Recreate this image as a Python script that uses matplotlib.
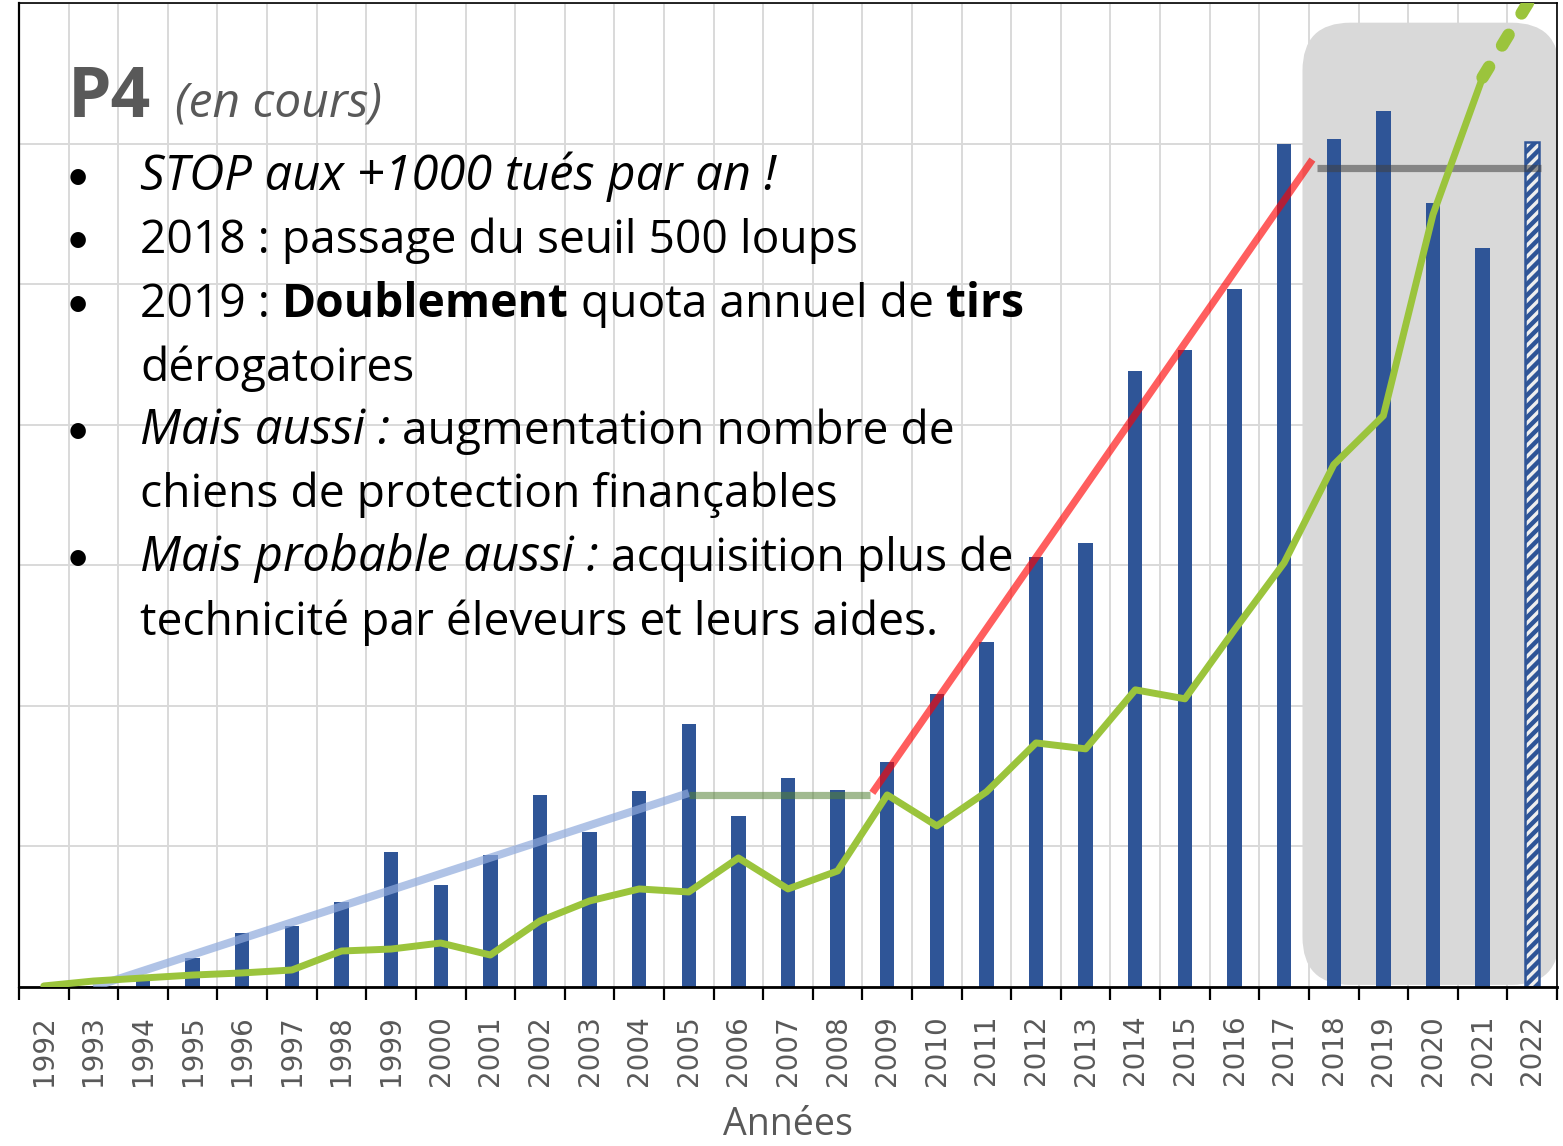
import matplotlib
matplotlib.use("Agg")
import matplotlib.pyplot as plt
import numpy as np
from matplotlib.patches import FancyBboxPatch
from matplotlib.transforms import IdentityTransform

# --- data ---
years = list(range(1992, 2023))
bars = [0, 20, 157, 413, 770, 868, 1210, 1922, 1452, 1879, 2733, 2206, 2790,
        3744, 2434, 2975, 2804, 3203, 4171, 4911, 6121, 6320, 8769, 9068,
        9936, 12000, 12071, 12470, 11160, 10520, 12028]
green = [15, 85, 128, 170, 200, 242, 512, 540, 626, 455, 940, 1224, 1395,
         1352, 1836, 1395, 1651, 2733, 2292, 2776, 3473, 3388, 4228, 4100,
         5082, 6036, 7431, 8128, 10990, 12940, 14100]
# trend segments (year position, value)
trend_blue_x = [1993, 2005]
trend_blue_y = [0, 2760]
trend_flat1_x = [2005, 2008.65]
trend_flat1_y = [2733, 2733]
trend_red_x = [2008.7, 2017.57]
trend_red_y = [2762, 11772]
trend_flat2_x = [2017.67, 2022.18]
trend_flat2_y = [11658, 11658]
box_x = [2017.37, 2022.55]
box_y = [30, 13720]

W, H = 1563, 1146
fig = plt.figure(figsize=(W / 100, H / 100), dpi=100)
ax = fig.add_axes([19 / W, 1 - 987 / H, (1557 - 19) / W, (987 - 3) / H])

x = np.array(years, dtype=float)
ax.set_xlim(1991.5, 2022.5)
ax.set_ylim(0, 14000)

# grid
ax.set_yticks(range(0, 14001, 2000))
ax.set_yticklabels([])
ax.tick_params(axis='y', length=0)
ax.set_xticks(x)
ax.set_xticklabels([str(y) for y in years], rotation=90, fontsize=20,
                   color='#595959', family='DejaVu Sans')
ax.set_xticks(np.arange(1991.5, 2023, 1), minor=True)
ax.tick_params(axis='x', which='major', length=0, pad=20)
ax.tick_params(axis='x', which='minor', length=9, width=1.6, color='black')
ax.grid(True, which='minor', axis='x', color='#d9d9d9', lw=1.4, zorder=0)
ax.grid(True, which='major', axis='y', color='#d9d9d9', lw=1.4, zorder=0)
ax.set_axisbelow(True)
for s in ax.spines.values():
    s.set_color('black')
    s.set_linewidth(1.2)
ax.spines['bottom'].set_linewidth(2)
ax.spines['left'].set_linewidth(1.6)

# gray rounded box (drawn in pixels so the corners stay round)
fig.canvas.draw()
p0 = ax.transData.transform((box_x[0], box_y[0]))
p1 = ax.transData.transform((box_x[1], box_y[1]))
box = FancyBboxPatch((p0[0], p0[1]), p1[0] - p0[0], p1[1] - p0[1],
                     boxstyle="round,pad=0,rounding_size=48",
                     transform=IdentityTransform(), fc='#d9d9d9', ec='none',
                     zorder=1)
ax.add_patch(box)
box.set_clip_path(ax.patch)

# bars
ax.bar(x[:-1], bars[:-1], width=0.29, color='#2f5597', zorder=2)
plt.rcParams['hatch.linewidth'] = 3.2
plt.rcParams['hatch.color'] = '#2f5597'
ax.bar(x[-1:], bars[-1:], width=0.29, facecolor='#eeeeee', edgecolor='#2f5597',
       hatch='///', lw=1.8, zorder=2)

# trend lines
ax.plot(trend_blue_x, trend_blue_y, color='#8faadc', alpha=0.7, lw=5.8,
        solid_capstyle='butt', zorder=3)
ax.plot(trend_flat1_x, trend_flat1_y, color='#548235', alpha=0.55, lw=5.2,
        solid_capstyle='butt', zorder=3)
ax.plot(trend_red_x, trend_red_y, color='#ff0000', alpha=0.63, lw=5.2,
        solid_capstyle='butt', zorder=3)
ax.plot(trend_flat2_x, trend_flat2_y, color='#404040', alpha=0.55, lw=5.2,
        solid_capstyle='butt', zorder=3)

# green line + dashed extension
ax.plot(x[:-1], green[:-1], color='#9bc43c', lw=5, solid_joinstyle='round',
        solid_capstyle='round', zorder=4)
ax.plot(x[-2:], green[-2:], color='#9bc43c', lw=9, dash_capstyle='round',
        dashes=(1.0, 2.0), zorder=4)

# --- text block ---
FONT = 'Open Sans'
renderer = fig.canvas.get_renderer()


def put(xp, yp, s, family=FONT, **kw):
    return fig.text(xp, H - yp, s, transform=IdentityTransform(),
                    family=family, va='baseline', zorder=6, **kw)


def width(s, **kw):
    t = put(0, 0, s, **kw)
    w = t.get_window_extent(renderer).width
    t.remove()
    return w


def rich(xp, yp, parts, size):
    for s, style, weight in parts:
        fs = size * 1.06 if style == 'italic' else size
        kw = dict(fontsize=fs, style=style, weight=weight, color='black')
        sp = width('x x', **kw) - width('xx', **kw)
        xp += (len(s) - len(s.lstrip(' '))) * sp
        t = put(xp, yp, s.strip(), **kw)
        xp += t.get_window_extent(renderer).width
        xp += (len(s) - len(s.rstrip(' '))) * sp


put(68, 117, 'P4', fontsize=50, weight='bold', color='#595959')
put(175, 117, '(en cours)', fontsize=34.5, style='italic', color='#595959')

N, I, B = 'normal', 'italic', 'bold'
lines = [
    (True, [('STOP aux +1000 tués par an !', I, N)]),
    (True, [('2018 : passage du seuil 500 loups', N, N)]),
    (True, [('2019 : ', N, N), ('Doublement', N, B),
            (' quota annuel de ', N, N), ('tirs', N, B)]),
    (False, [('dérogatoires', N, N)]),
    (True, [('Mais aussi :', I, N), (' augmentation nombre de', N, N)]),
    (False, [('chiens de protection finançables', N, N)]),
    (True, [('Mais probable aussi :', I, N), (' acquisition plus de', N, N)]),
    (False, [('technicité par éleveurs et leurs aides.', N, N)]),
]
size = 33.2
for k, (bullet, parts) in enumerate(lines):
    yb = 190 + 63.5 * k
    if bullet:
        put(78, yb, '•', family='Lato', fontsize=30, ha='center',
            color='black')
    rich(140, yb, parts, size)

put(788, 1135, 'Années', fontsize=27, ha='center', color='#595959')

fig.savefig('out.png', dpi=100)
